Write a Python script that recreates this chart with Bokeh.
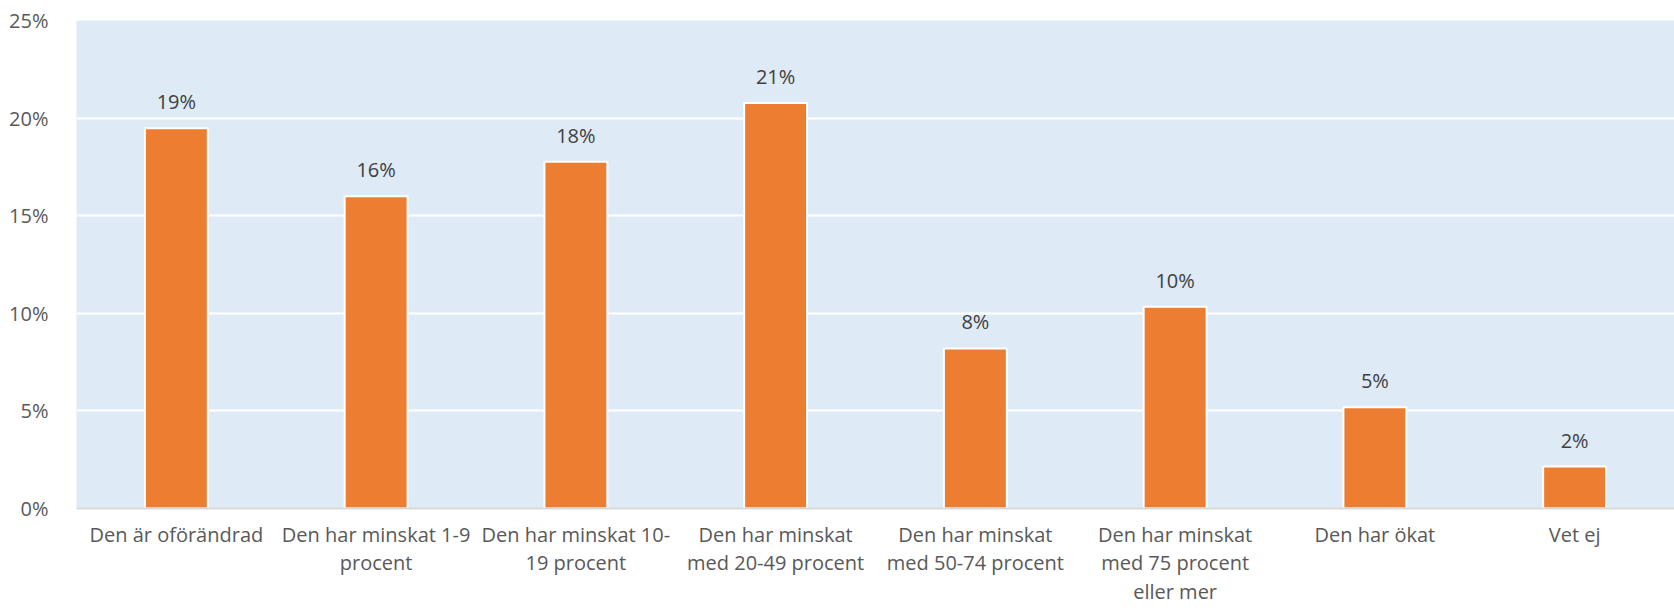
from bokeh.plotting import figure
from bokeh.models import ColumnDataSource, FactorRange, Range1d, SingleIntervalTicker, NumeralTickFormatter
from bokeh.core.properties import value
from bokeh.embed import file_html
from bokeh.resources import INLINE

categories = [
    "Den är oförändrad",
    "Den har minskat 1-9\nprocent",
    "Den har minskat 10-\n19 procent",
    "Den har minskat\nmed 20-49 procent",
    "Den har minskat\nmed 50-74 procent",
    "Den har minskat\nmed 75 procent\neller mer",
    "Den har ökat",
    "Vet ej",
]
values = [0.1948, 0.160, 0.1777, 0.2077, 0.082, 0.1033, 0.0519, 0.0215]
labels = [f"{round(v * 100)}%" for v in values]

FONT = "Open Sans"

src = ColumnDataSource(dict(cat=categories, val=values, lab=labels))

p = figure(
    x_range=FactorRange(*categories, range_padding=0),
    y_range=Range1d(0, 0.25),
    width=1674, height=608,
    output_backend="svg", toolbar_location=None,
    min_border_left=76, min_border_right=0, min_border_top=20, min_border_bottom=100,
)
p.background_fill_color = "#DEEAF6"
p.border_fill_color = "white"
p.outline_line_color = None

p.vbar(x="cat", top="val", width=0.315, source=src,
       fill_color="#ED7D31", line_color="white", line_width=2)

p.text(x="cat", y="val", text="lab", source=src,
       text_align="center", text_baseline="bottom", y_offset=-13,
       text_font=value(FONT), text_font_size="20px", text_color="#404040")

p.xgrid.grid_line_color = None
p.ygrid.grid_line_color = "white"
p.ygrid.grid_line_width = 2
p.yaxis.ticker = SingleIntervalTicker(interval=0.05)
p.yaxis.formatter = NumeralTickFormatter(format="0%")
p.yaxis.axis_line_color = None
p.yaxis.major_tick_line_color = None
p.yaxis.minor_tick_line_color = None
p.yaxis.major_label_standoff = 22
p.yaxis.major_label_text_font = FONT
p.yaxis.major_label_text_font_size = "20px"
p.yaxis.major_label_text_color = "#595959"

p.xaxis.axis_line_color = "#D9D9D9"
p.xaxis.axis_line_width = 2
p.xaxis.major_tick_line_color = None
p.xaxis.minor_tick_line_color = None
p.xaxis.major_label_standoff = 6
p.xaxis.major_label_text_font = FONT
p.xaxis.major_label_text_font_size = "20px"
p.xaxis.major_label_text_color = "#595959"
p.xaxis.major_label_text_line_height = 1.07

open("out.html", "w").write(file_html(p, INLINE))
